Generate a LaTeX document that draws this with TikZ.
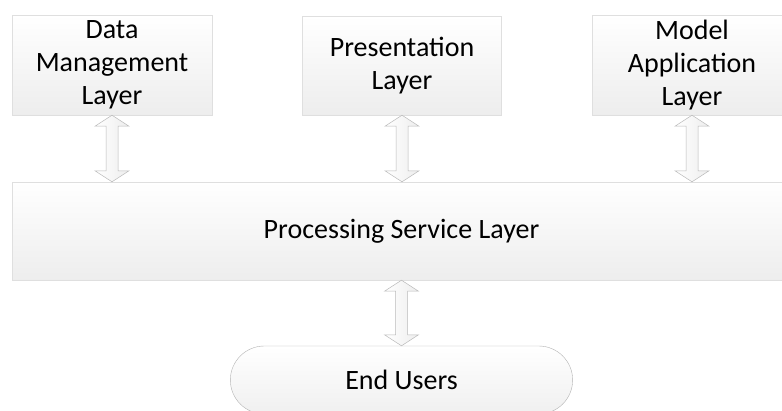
\documentclass[tikz,border=0pt]{standalone}
\usepackage{fontspec}
\setmainfont{Carlito}
\usepackage{tikz}
\usetikzlibrary{shapes,shapes.misc}
\usetikzlibrary{calc}
\tikzstyle{layer}=[draw=gray!25, top color=white, bottom color=gray!14, minimum width=200pt, minimum height=100pt, inner sep=0pt, align=center, font=\fontsize{28}{33}\selectfont]
\tikzstyle{leftedge}=[path picture={\draw[black!55, line width=1pt] (path picture bounding box.north west) -- (path picture bounding box.south west);}]
\tikzstyle{users}=[rounded rectangle, draw=gray!60, top color=white, bottom color=gray!12, minimum width=349pt, minimum height=68pt, font=\fontsize{28}{33}\selectfont]
\tikzstyle{twoway}=[draw=gray!55, line width=0.5pt, left color=white, right color=gray!14, line join=miter]
\newcommand{\linkarrow}[2]{%
  \path[twoway] let \p1=(#1), \p2=(#2) in
    (\x1,\y1) -- (\x1+17pt,\y1-11pt) -- (\x1+6pt,\y1-11pt) -- (\x1+6pt,\y2+11pt)
    -- (\x1+17pt,\y2+11pt) -- (\x1,\y2) -- (\x1-17pt,\y2+11pt) -- (\x1-6pt,\y2+11pt)
    -- (\x1-6pt,\y1-11pt) -- (\x1-17pt,\y1-11pt) -- cycle;}

\begin{document}
\begin{tikzpicture}[x=1pt,y=-1pt]
\path[use as bounding box, clip] (0,0) rectangle (782,410);
% layers
\node[layer, leftedge] (data) at (112,65) {Data\\Management\\Layer};
\node[layer, minimum width=199pt, minimum height=99pt] (pres) at (402,65.5) {Presentation\\Layer};
\node[layer, leftedge] (model) at (692,65) {Model\\Application\\Layer};
\node[layer, leftedge, minimum width=779pt, minimum height=98pt] (proc) at (401.5,231) {Processing Service Layer};
\node[users] (users) at (401.5,380) {End Users};
% two-way links
\foreach \lay in {data,pres,model} {
	\linkarrow{\lay.south}{\lay.south |- proc.north}
}
\linkarrow{proc.south}{users.north}
\end{tikzpicture}
\end{document}
